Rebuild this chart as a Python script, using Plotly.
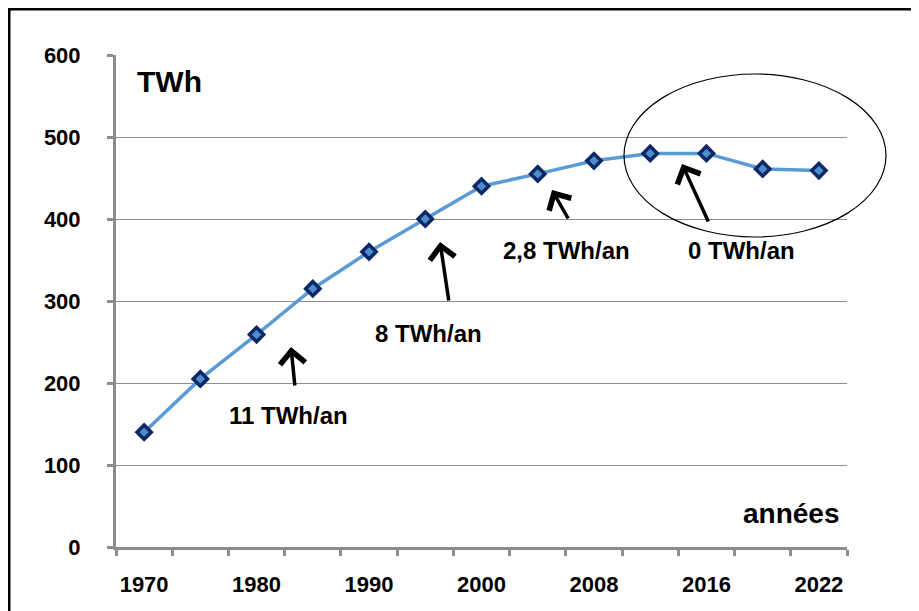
import plotly.graph_objects as go

# ---- data ----
x_labels = ["1970", "", "1980", "", "1990", "", "2000", "", "2008", "", "2016", "", "2022"]
values = [140, 205, 259, 315, 360, 400, 440, 455, 471, 480, 480, 461, 459]
y_ticks = [0, 100, 200, 300, 400, 500, 600]
rate_labels = ["11 TWh/an", "8 TWh/an", "2,8 TWh/an", "0 TWh/an"]

OFF = 8  # page body margin
W, H = 919 - OFF, 611 - OFF
ML, MT = 116 - OFF, 55 - OFF
MR = W - (847 - OFF)
MB = H - (547 - OFF)
PW, PH = W - ML - MR, H - MT - MB


def px(p):
    return (p - OFF - ML) / PW


def py(p):
    return (H - MB - (p - OFF)) / PH


xs = list(range(len(values)))
FONT = "Liberation Sans"

fig = go.Figure()
fig.add_trace(go.Scatter(
    x=xs, y=values, mode="lines+markers",
    line=dict(color="#5B9BD5", width=3.5),
    marker=dict(symbol="diamond", size=11, color="#4F8CCB",
                line=dict(color="#0C2866", width=3.5)),
    showlegend=False, hoverinfo="skip",
))

annotations = []
label_pos = [(288, 415), (428, 333), (566, 250), (741, 250)]
for txt, (lx, ly) in zip(rate_labels, label_pos):
    annotations.append(dict(text="<b>" + txt + "</b>", xref="paper", yref="paper",
                            x=px(lx), y=py(ly), showarrow=False,
                            xanchor="center", yanchor="middle",
                            font=dict(family=FONT, size=24, color="#000")))
arrows = [((291, 347), (4, 40)), ((440, 242), (9, 60)),
          ((552, 190), (17, 30)), ((682, 164), (27, 59))]
for (hx, hy), (ax, ay) in arrows:
    annotations.append(dict(text="", xref="paper", yref="paper",
                            x=px(hx), y=py(hy), ax=ax, ay=ay,
                            showarrow=True, arrowhead=4, arrowsize=1.4,
                            arrowwidth=3.5, arrowcolor="#000"))
annotations.append(dict(text="<b>TWh</b>", xref="paper", yref="paper",
                        x=px(135), y=py(81), xanchor="left", yanchor="middle",
                        showarrow=False, font=dict(family=FONT, size=30, color="#000")))
annotations.append(dict(text="<b>années</b>", xref="paper", yref="paper",
                        x=px(842), y=py(513), xanchor="right", yanchor="middle",
                        showarrow=False, font=dict(family=FONT, size=28, color="#000")))

shapes = [
    dict(type="circle", xref="paper", yref="paper",
         x0=px(624), x1=px(886), y0=py(74), y1=py(237),
         line=dict(color="#000", width=1.2)),
    dict(type="rect", xref="paper", yref="paper",
         x0=px(9), x1=px(940), y0=py(9), y1=py(640),
         line=dict(color="#000", width=3)),
]

fig.update_layout(
    width=W, height=H,
    margin=dict(l=ML, r=MR, t=MT, b=MB),
    paper_bgcolor="white", plot_bgcolor="white",
    annotations=annotations, shapes=shapes,
    xaxis=dict(
        range=[-0.5, len(values) - 0.5],
        tickmode="array", tickvals=xs, ticktext=x_labels,
        ticks="", showgrid=False, zeroline=False,
        showline=True, linecolor="#8C8C8C", linewidth=3,
        tickfont=dict(family=FONT, size=22, color="#000", weight="bold"),
        ticklabelstandoff=16,
        minor=dict(tick0=-0.5, dtick=1, ticks="outside", ticklen=6,
                   tickwidth=3, tickcolor="#8C8C8C", showgrid=False),
    ),
    yaxis=dict(
        range=[0, 600], tickmode="array", tickvals=y_ticks,
        ticks="outside", ticklen=6, tickwidth=3, tickcolor="#8C8C8C",
        showgrid=True, gridcolor="#8C8C8C", gridwidth=1,
        zeroline=False, showline=True, linecolor="#8C8C8C", linewidth=3,
        tickfont=dict(family=FONT, size=22, color="#000", weight="bold"),
        ticklabelstandoff=22,
    ),
)

fig.write_html("out.html")
